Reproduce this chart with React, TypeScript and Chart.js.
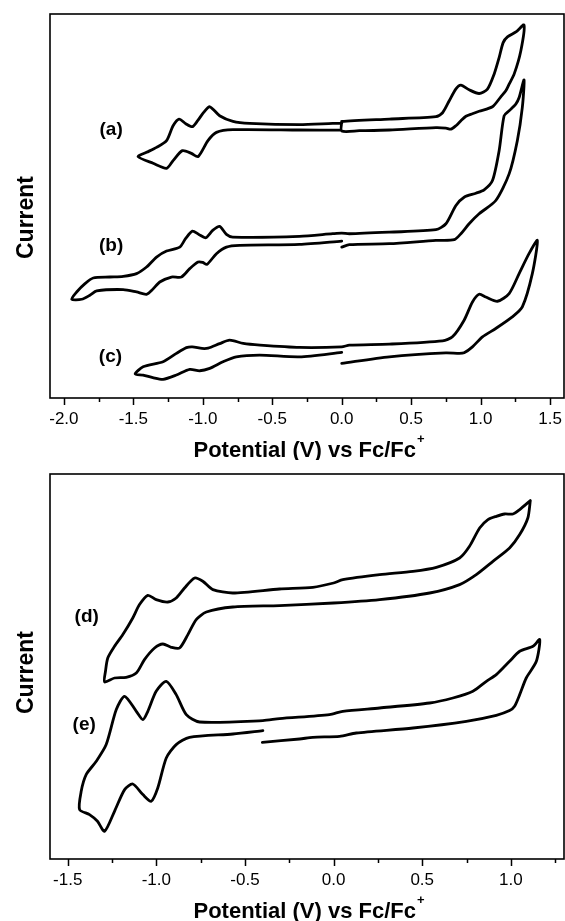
import React, { useEffect, useRef } from "react";
import { Chart, registerables } from "chart.js";

Chart.register(...registerables);

const FONT = "'Liberation Sans', Arial, Helvetica, sans-serif";

// ---------- axis ranges ----------
const topXMin = -2.1;
const topXMax = 1.6;
const botXMin = -1.6;
const botXMax = 1.3;
const currentMin = 0;
const currentMax = 38.5;

// ---------- texts ----------
const xTitle = "Potential (V) vs Fc/Fc";
const xTitleSup = "+";
const yTitle = "Current";

// ---------- curve (a) : potential (V) / current (a.u.) ----------
const aV = [0, 0, 0.127, 0.343, 0.678, 0.75, 0.786, 0.822, 0.858, 0.894, 0.941, 0.989, 1.085, 1.145, 1.181, 1.205, 1.241, 1.289, 1.3125,
  1.257, 1.193, 1.162, 1.133, 1.097, 1.049, 0.989, 0.917, 0.858, 0.822, 0.774, 0.726, 0.678, 0.343, 0,
  0, -0.065, -0.304, -0.663, -0.783, -0.879, -0.95, -0.994, -1.037, -1.075, -1.123, -1.171, -1.214, -1.261, -1.333, -1.405, -1.466,
  -1.358, -1.261, -1.214, -1.147, -1.082, -1.034, -0.963, -0.902, -0.783, -0.304, -0.017];
const aI = [27.73, 26.77, 26.8, 26.87, 27.1, 27.05, 26.95, 27.3, 27.8, 28.25, 28.5, 28.75, 29.2, 30.2, 30.8, 31.47, 32.47, 34.8, 37.4,
  36.73, 36.2, 35.63, 34.13, 32.47, 30.97, 30.53, 30.9, 31.37, 31.0, 29.8, 28.6, 28.2, 27.97, 27.73,
  27.55, 27.53, 27.4, 27.53, 27.73, 28.3, 29.2, 28.63, 27.8, 27.2, 27.5, 27.97, 27.3, 25.8, 25.13, 24.63, 24.2,
  23.53, 23.03, 23.8, 24.8, 24.53, 24.2, 25.8, 26.63, 26.9, 26.87, 26.85];

// ---------- curve (b) ----------
const bV = [0, 0.055, 0.343, 0.678, 0.81, 0.858, 0.917, 0.989, 1.109, 1.205, 1.264, 1.3, 1.3125,
  1.277, 1.253, 1.205, 1.169, 1.133, 1.085, 1.025, 0.966, 0.881, 0.822, 0.75, 0.678, 0.343, 0.055, 0, -0.065, -0.304,
  -0.785, -0.83, -0.879, -0.929, -0.979, -1.029, -1.075, -1.123, -1.166, -1.261, -1.333, -1.405, -1.477, -1.573, -1.669, -1.789, -1.848, -1.908, -1.944,
  -1.872, -1.813, -1.764, -1.573, -1.477, -1.405, -1.36, -1.31, -1.226, -1.154, -1.094, -1.034, -1.001, -0.97, -0.902, -0.83, -0.735, -0.304, 0];
const bI = [15.13, 15.37, 15.47, 15.8, 15.87, 16.47, 17.47, 18.47, 19.8, 22.47, 25.8, 29.13, 31.9,
  30.13, 29.47, 28.8, 28.3, 24.8, 21.8, 20.87, 20.53, 20.13, 19.3, 17.47, 16.87, 16.63, 16.47, 16.53, 16.47, 16.2,
  16.13, 16.4, 17.2, 16.8, 16.07, 16.4, 16.73, 16.0, 15.13, 14.73, 14.13, 13.13, 12.47, 12.2, 12.13, 12.03, 11.47, 10.63, 9.9,
  9.9, 10.3, 10.73, 10.87, 10.63, 10.4, 10.9, 11.63, 12.13, 12.13, 12.97, 13.63, 13.6, 13.4, 14.47, 15.13, 15.3, 15.4, 15.73];

// ---------- curve (c) ----------
const cV = [0, 0.343, 0.75, 0.846, 0.881, 0.941, 1.013, 1.109, 1.228, 1.3, 1.372, 1.408,
  1.348, 1.277, 1.205, 1.121, 1.037, 0.989, 0.941, 0.881, 0.797, 0.726, 0.343, 0.055, 0, -0.304,
  -0.588, -0.709, -0.807, -0.879, -0.962, -1.006, -1.075, -1.118, -1.19, -1.286, -1.43, -1.487,
  -1.43, -1.36, -1.286, -1.19, -1.094, -1.022, -0.95, -0.855, -0.759, -0.591, -0.304, 0];
const cI = [3.47, 4.13, 4.53, 4.47, 4.53, 5.13, 6.13, 6.97, 8.13, 9.13, 12.47, 15.8,
  14.47, 12.47, 10.47, 9.7, 10.13, 10.4, 9.63, 7.8, 6.13, 5.73, 5.4, 5.3, 5.13, 5.07,
  5.3, 5.47, 5.8, 5.45, 5.0, 4.97, 5.13, 5.05, 4.47, 3.63, 3.13, 2.4,
  2.3, 2.05, 1.87, 2.3, 2.87, 2.73, 2.97, 3.63, 4.13, 4.3, 4.13, 4.57];

// ---------- curve (d) ----------
const dV = [1.11, 1.096, 1.05, 0.993, 0.899, 0.805, 0.711, 0.542, 0.26, 0, -0.305, -0.568, -0.718, -0.775, -0.822,
  -0.869, -0.916, -0.963, -1.01, -1.067, -1.113, -1.17, -1.236, -1.292,
  -1.287, -1.274, -1.236, -1.189, -1.133, -1.095, -1.048, -1.001, -0.935, -0.888, -0.841, -0.784, -0.738, -0.681, -0.568,
  -0.305, -0.117, 0, 0.052, 0.26, 0.448, 0.58, 0.711, 0.767, 0.824, 0.871, 0.918, 0.965, 1.012, 1.05, 1.11];
const dI = [35.84, 34.1, 32.44, 31.1, 29.77, 28.44, 27.44, 26.6, 25.94, 25.6, 25.34, 25.2, 24.7, 23.94, 22.44,
  21.1, 21.17, 21.5, 21.1, 19.94, 18.6, 18.17, 18.1, 17.7,
  18.77, 20.1, 21.27, 22.44, 24.1, 25.44, 26.37, 25.94, 25.7, 26.1, 27.1, 28.1, 27.77, 26.94, 26.6,
  27.0, 27.17, 27.6, 27.94, 28.44, 28.77, 29.17, 30.1, 31.27, 33.1, 33.94, 34.27, 34.5, 34.5, 34.94, 35.84];

// ---------- curve (e) ----------
const eV = [-0.402, -0.192, -0.117, 0.034, 0.128, 0.448, 0.749, 0.918, 0.993, 1.021, 1.05, 1.087, 1.144, 1.163,
  1.125, 1.05, 0.993, 0.918, 0.862, 0.786, 0.673, 0.542, 0.26, 0.052, -0.023, -0.305, -0.399,
  -0.756, -0.831, -0.888, -0.944, -1.001, -1.048, -1.076, -1.113, -1.179, -1.226, -1.283, -1.339, -1.396, -1.424, -1.433,
  -1.377, -1.332, -1.292, -1.236, -1.179, -1.133, -1.076, -1.029, -0.992, -0.944, -0.888, -0.813, -0.568, -0.399];
const eI = [11.67, 12.0, 12.17, 12.27, 12.6, 13.1, 13.77, 14.37, 14.84, 15.27, 16.44, 18.1, 19.77, 21.94,
  21.27, 20.77, 19.77, 18.44, 17.77, 16.77, 16.1, 15.6, 15.1, 14.77, 14.44, 14.04, 13.84,
  13.7, 14.44, 16.44, 17.77, 16.77, 14.77, 13.94, 14.77, 16.27, 14.94, 11.44, 9.77, 8.44, 6.77, 4.94,
  4.44, 3.77, 2.77, 4.77, 6.94, 7.5, 6.44, 5.77, 7.1, 10.1, 11.44, 12.17, 12.5, 12.84];

// ---------- curve labels ----------
const topLabels = ["(a)", "(b)", "(c)"];
const topLabelV = [-1.66, -1.66, -1.665];
const topLabelI = [26.37, 14.7, 3.6];
const botLabels = ["(d)", "(e)"];
const botLabelV = [-1.393, -1.407];
const botLabelI = [23.67, 12.9];

function zip(vs: number[], is: number[]) {
  const n = Math.min(vs.length, is.length);
  const out: { x: number; y: number }[] = [];
  for (let k = 0; k < n; k++) out.push({ x: vs[k], y: is[k] });
  return out;
}

const framePlugin = {
  id: "frame",
  afterDraw(chart: any, _args: any, opts: any) {
    const { ctx, chartArea: a, scales } = chart;
    const xs = scales.x;
    const ys = scales.y;
    ctx.save();
    // box
    ctx.strokeStyle = "#000";
    ctx.lineWidth = 1.6;
    ctx.strokeRect(a.left, a.top, a.right - a.left, a.bottom - a.top);
    // ticks (major long, minor short)
    ctx.beginPath();
    xs.ticks.forEach((t: any) => {
      const px = Math.round(xs.getPixelForValue(t.value)) + 0.5;
      const len = t.label ? 7 : 4;
      ctx.moveTo(px, a.bottom);
      ctx.lineTo(px, a.bottom + len);
    });
    ctx.lineWidth = 1.5;
    ctx.stroke();

    ctx.fillStyle = "#000";
    // x title with superscript
    ctx.font = `bold 22px ${FONT}`;
    const w1 = ctx.measureText(xTitle).width;
    ctx.font = `bold 13px ${FONT}`;
    const w2 = ctx.measureText(xTitleSup).width;
    const total = w1 + 1 + w2;
    const cx = (a.left + a.right) / 2 + 2;
    const x0 = cx - total / 2;
    const base = a.bottom + 58.7;
    ctx.textAlign = "left";
    ctx.textBaseline = "alphabetic";
    ctx.font = `bold 22px ${FONT}`;
    ctx.fillText(xTitle, x0, base);
    ctx.font = `bold 13px ${FONT}`;
    ctx.fillText(xTitleSup, x0 + w1 + 1, base - 13.5);

    // y title
    ctx.save();
    ctx.translate(33, opts.yTitleY);
    ctx.rotate(-Math.PI / 2);
    ctx.font = `bold 23px ${FONT}`;
    ctx.textAlign = "center";
    ctx.textBaseline = "alphabetic";
    ctx.fillText(yTitle, 0, 0);
    ctx.restore();

    // curve labels
    ctx.font = `bold 19px ${FONT}`;
    ctx.textAlign = "center";
    ctx.textBaseline = "alphabetic";
    (opts.labels as string[]).forEach((txt, k) => {
      ctx.fillText(txt, xs.getPixelForValue(opts.labelV[k]), ys.getPixelForValue(opts.labelI[k]));
    });
    ctx.restore();
  },
};

type PanelProps = {
  series: { v: number[]; i: number[] }[];
  xMin: number;
  xMax: number;
  labels: string[];
  labelV: number[];
  labelI: number[];
  yTitleY: number;
  height: number;
};

function Panel(p: PanelProps) {
  const ref = useRef<HTMLCanvasElement | null>(null);
  useEffect(() => {
    if (!ref.current) return;
    const chart = new Chart(ref.current, {
      type: "scatter",
      data: {
        datasets: p.series.map((s) => ({
          data: zip(s.v, s.i),
          showLine: true,
          borderColor: "#000",
          backgroundColor: "#000",
          borderWidth: 2.8,
          pointRadius: 0,
          pointHoverRadius: 0,
          tension: 0.25,
          fill: false,
          borderJoinStyle: "round" as const,
          borderCapStyle: "round" as const,
        })),
      },
      plugins: [framePlugin],
      options: {
        responsive: false,
        animation: false,
        devicePixelRatio: 1,
        layout: { padding: { left: 50, right: 1, top: 14, bottom: 0 } },
        plugins: {
          legend: { display: false },
          tooltip: { enabled: false },
          frame: { labels: p.labels, labelV: p.labelV, labelI: p.labelI, yTitleY: p.yTitleY },
        } as any,
        scales: {
          x: {
            type: "linear",
            position: "bottom",
            min: p.xMin,
            max: p.xMax,
            grid: { display: false, drawTicks: false, tickLength: 0 },
            border: { display: false },
            ticks: {
              stepSize: 0.25,
              includeBounds: false,
              autoSkip: false,
              maxRotation: 0,
              minRotation: 0,
              padding: 11,
              color: "#000",
              font: { family: FONT, size: 17 },
              callback: (val: any) => {
                const v = Number(val);
                return Math.abs(v * 2 - Math.round(v * 2)) < 1e-6 ? v.toFixed(1) : "";
              },
            },
            afterFit: (s: any) => {
              s.height = 62;
              s.paddingLeft = 0;
              s.paddingRight = 0;
            },
          },
          y: {
            type: "linear",
            display: false,
            min: currentMin,
            max: currentMax,
          },
        },
      } as any,
    });
    return () => chart.destroy();
  }, []);
  return <canvas ref={ref} width={565} height={p.height} style={{ display: "block", width: 565, height: p.height }} />;
}

export default function App() {
  useEffect(() => {
    document.body.style.margin = "0";
    document.body.style.background = "#fff";
  }, []);
  return (
    <div style={{ width: 565, background: "#fff" }}>
      <Panel
        series={[{ v: aV, i: aI }, { v: bV, i: bI }, { v: cV, i: cI }]}
        xMin={topXMin}
        xMax={topXMax}
        labels={topLabels}
        labelV={topLabelV}
        labelI={topLabelI}
        yTitleY={217.5}
        height={460}
      />
      <Panel
        series={[{ v: dV, i: dI }, { v: eV, i: eI }]}
        xMin={botXMin}
        xMax={botXMax}
        labels={botLabels}
        labelV={botLabelV}
        labelI={botLabelI}
        yTitleY={212.5}
        height={461}
      />
    </div>
  );
}
